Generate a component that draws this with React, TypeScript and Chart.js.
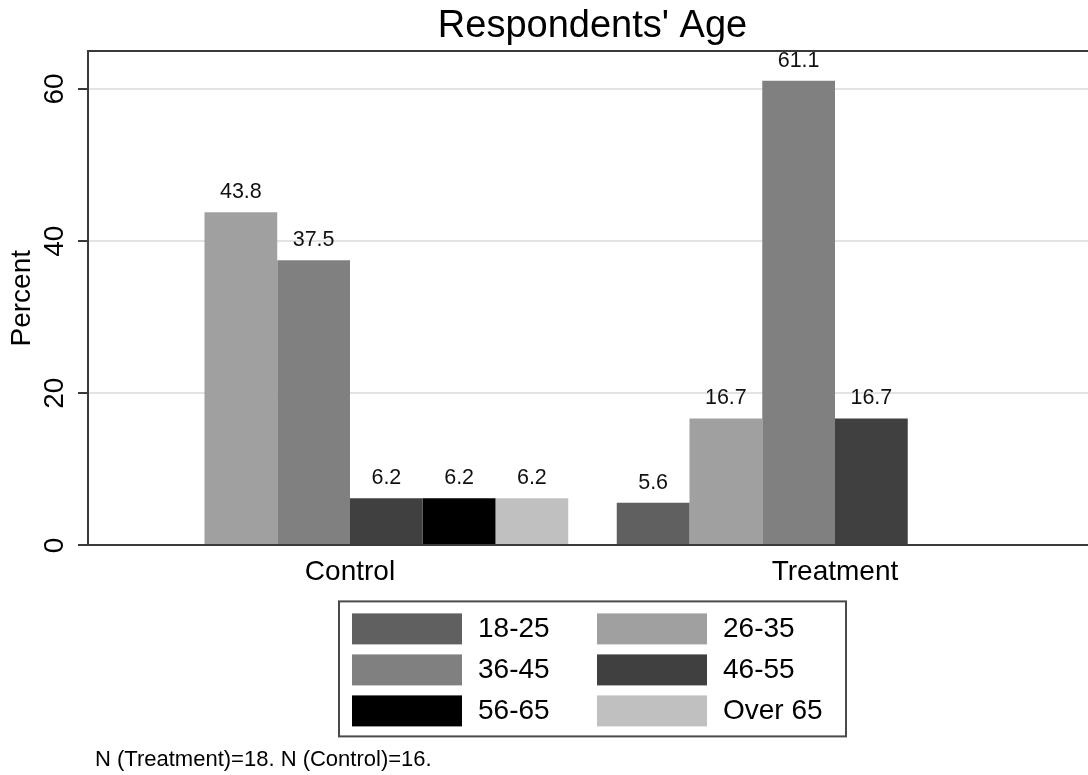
import React, { useEffect, useRef } from 'react';
import { Chart, registerables } from 'chart.js';

Chart.register(...registerables);

// ---- data ----
const groups = ['Control', 'Treatment'];
const ageBands = ['18-25', '26-35', '36-45', '46-55', '56-65', 'Over 65'];
const controlPct = [0, 43.8, 37.5, 6.2, 6.2, 6.2];
const treatmentPct = [5.6, 16.7, 61.1, 16.7, 0, 0];
const bandColors = ['#606060', '#a0a0a0', '#808080', '#404040', '#000000', '#c0c0c0'];
const yTickValues = [0, 20, 40, 60];
const yMax = 65;
const titleText = "Respondents' Age";
const yTitle = 'Percent';
const footnote = 'N (Treatment)=18. N (Control)=16.';

const FONT = '"Liberation Sans", Arial, Helvetica, sans-serif';
const AXIS = '#3a3a3a';
const OUTER_GAP = 19.5;

const outerGapPlugin = {
  id: 'outerGap',
  afterLayout(chart: any) {
    const x = chart.scales.x;
    x._startPixel += OUTER_GAP;
    x._endPixel -= OUTER_GAP;
    x._length -= 2 * OUTER_GAP;
  },
};

const framePlugin = {
  id: 'plotFrame',
  afterDatasetsDraw(chart: any) {
    const { ctx, chartArea } = chart;
    ctx.save();
    ctx.strokeStyle = AXIS;
    ctx.lineWidth = 2;
    ctx.beginPath();
    ctx.moveTo(chartArea.left - 1, chartArea.top);
    ctx.lineTo(chartArea.right, chartArea.top);
    ctx.lineTo(chartArea.right, chartArea.bottom);
    ctx.stroke();
    ctx.restore();
  },
};

const valueLabelPlugin = {
  id: 'valueLabels',
  afterDatasetsDraw(chart: any) {
    const { ctx } = chart;
    ctx.save();
    ctx.font = `21.5px ${FONT}`;
    ctx.fillStyle = '#111';
    ctx.textAlign = 'center';
    ctx.textBaseline = 'middle';
    chart.data.datasets.forEach((ds: any, di: number) => {
      const meta = chart.getDatasetMeta(di);
      meta.data.forEach((bar: any, i: number) => {
        const v = ds.data[i];
        if (!v) return;
        ctx.fillText(v.toFixed(1), bar.x, bar.y - 20);
      });
    });
    ctx.restore();
  },
};

const boxLegendPlugin = {
  id: 'boxLegend',
  afterDraw(chart: any) {
    const { ctx, chartArea } = chart;
    const cx = (chartArea.left + chartArea.right) / 2;
    const boxW = 507;
    const boxH = 135;
    const left = cx - boxW / 2;
    const top = chartArea.bottom + 56;
    ctx.save();
    ctx.fillStyle = '#fff';
    ctx.fillRect(left, top, boxW, boxH);
    ctx.strokeStyle = '#4a4a4a';
    ctx.lineWidth = 2;
    ctx.strokeRect(left, top, boxW, boxH);
    ctx.font = `28px ${FONT}`;
    ctx.textAlign = 'left';
    ctx.textBaseline = 'middle';
    chart.data.datasets.forEach((ds: any, i: number) => {
      const col = i % 2;
      const row = Math.floor(i / 2);
      const sx = left + 13 + col * 245;
      const sy = top + 12 + row * 41;
      ctx.fillStyle = ds.backgroundColor;
      ctx.fillRect(sx, sy, 110, 31);
      ctx.fillStyle = '#000';
      ctx.fillText(ds.label, sx + 126, sy + 16);
    });
    // footnote
    ctx.font = `22px ${FONT}`;
    ctx.fillStyle = '#000';
    ctx.fillText(footnote, 95, 760);
    ctx.restore();
  },
};

export default function App() {
  const canvasRef = useRef<HTMLCanvasElement | null>(null);

  useEffect(() => {
    const canvas = canvasRef.current;
    if (!canvas) return;
    const chart = new Chart(canvas, {
      type: 'bar',
      data: {
        labels: groups,
        datasets: ageBands.map((band, i) => ({
          label: band,
          data: [controlPct[i], treatmentPct[i]],
          backgroundColor: bandColors[i],
          borderWidth: 0,
          categoryPercentage: 0.9,
          barPercentage: 1,
        })),
      },
      options: {
        responsive: false,
        animation: false,
        devicePixelRatio: 1,
        layout: { padding: { left: 0, right: 3, top: 0, bottom: 176 } },
        font: { family: FONT },
        plugins: {
          legend: { display: false },
          tooltip: { enabled: false },
          title: {
            display: true,
            text: titleText,
            fullSize: false,
            color: '#000',
            font: { family: FONT, size: 38, weight: 'normal' },
            padding: { top: 4, bottom: 1.4 },
          },
        },
        scales: {
          x: {
            type: 'category',
            offset: true,
            grid: { display: false, drawTicks: false },
            border: { display: true, color: AXIS, width: 2, z: 1 },
            ticks: { color: '#000', font: { family: FONT, size: 28 }, padding: 10 },
          },
          y: {
            min: 0,
            max: yMax,
            afterBuildTicks: (scale: any) => {
              scale.ticks = yTickValues.map((v) => ({ value: v }));
            },
            afterFit: (scale: any) => {
              scale.width = 88;
            },
            grid: {
              color: '#e3e3e3',
              lineWidth: 2,
              tickLength: 10,
              tickColor: AXIS,
              tickWidth: 2,
            },
            border: { display: true, color: AXIS, width: 2, z: 1 },
            ticks: {
              color: '#000',
              font: { family: FONT, size: 28 },
              minRotation: 90,
              maxRotation: 90,
              crossAlign: 'center',
              padding: 7.5,
            },
            title: {
              display: true,
              text: yTitle,
              color: '#000',
              font: { family: FONT, size: 28 },
              padding: { top: 5, bottom: 0 },
            },
          },
        },
      },
      plugins: [outerGapPlugin, framePlugin, valueLabelPlugin, boxLegendPlugin],
    } as any);
    return () => chart.destroy();
  }, []);

  return (
    <div
      style={{
        position: 'fixed',
        left: 0,
        top: 0,
        width: 1088,
        height: 775,
        overflow: 'hidden',
        background: '#fff',
      }}
    >
      <canvas ref={canvasRef} width={1100} height={775} style={{ width: 1100, height: 775, display: 'block' }} />
    </div>
  );
}
